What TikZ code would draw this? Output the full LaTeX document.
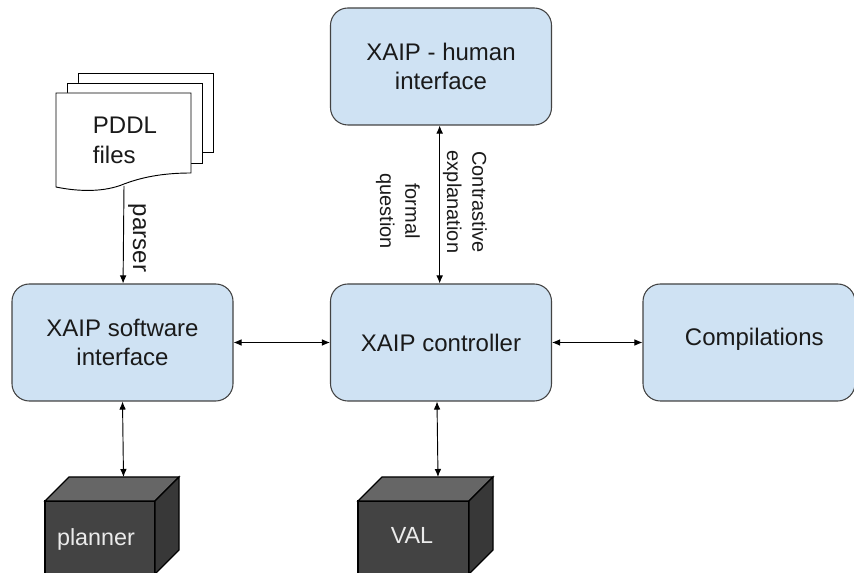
\documentclass[tikz,border=0pt]{standalone}
\usepackage{fontspec}
\setmainfont{Liberation Sans}
\usepackage{tikz}
\usetikzlibrary{arrows.meta}
\definecolor{boxblue}{HTML}{CFE2F3}
\definecolor{boxline}{HTML}{434343}
\definecolor{cubefront}{HTML}{434343}
\definecolor{cubetop}{HTML}{666666}
\definecolor{cubeside}{HTML}{383838}
\definecolor{textgrey}{HTML}{1A1A1A}
\tikzset{
  block/.style={draw=boxline, line width=.8pt, fill=boxblue, rounded corners=13pt, align=center, text=textgrey, font=\fontsize{18}{21.5}\selectfont, inner sep=0pt},
  sheet/.style={draw=black, line width=.7pt, fill=white},
  cubeline/.style={draw=black, line width=.8pt},
  cubelabel/.style={text=white!92!black, font=\fontsize{17.5}{21}\selectfont, inner sep=0pt},
  link/.style={line width=.7pt, {Latex[length=6pt,width=5pt]}-{Latex[length=6pt,width=5pt]}},
  linkone/.style={line width=.7pt, -{Latex[length=6pt,width=5pt]}},
  edgetext/.style={rotate=-90, align=center, text=textgrey, font=\fontsize{15}{19}\selectfont, inner sep=0pt}
}
\begin{document}
\begin{tikzpicture}[x=.75pt, y=-.75pt]
\useasboundingbox (0,0) rectangle (854,573);

% Bloecke
\node[block, minimum width=221*.75pt, minimum height=117*.75pt] (human) at (441,66.5) {XAIP - human\\interface};
\node[block, minimum width=221*.75pt, minimum height=117*.75pt] (software) at (122.5,342.5) {XAIP software\\interface};
\node[block, minimum width=221*.75pt, minimum height=117*.75pt] (controller) at (441,342.5) {XAIP controller};
\node[block, minimum width=212*.75pt, minimum height=117*.75pt, text depth=9pt] (compilations) at (749,342.5) {\hspace*{8pt}Compilations};

% PDDL Dateien
\draw[sheet] (78,93) -- (78,73) -- (213,73) -- (213,152) -- (200,152);
\draw[sheet] (67,93) -- (67,83) -- (202,83) -- (202,163) -- (190,163);
\draw[sheet] (56,93) -- (191,93) -- (191,173) .. controls (155,173) and (135,180) .. (124,184) .. controls (105,192) and (80,192) .. (56,187) -- cycle;
\node[align=left, text=textgrey, font=\fontsize{18}{22.5}\selectfont, inner sep=0pt] (pddl) at (125,140) {PDDL\\files};
\coordinate (pddlout) at (124,186);

% Quader planner
\draw[cubeline, fill=cubefront] (45,501) rectangle (155,574);
\draw[cubeline, fill=cubetop] (45,501) -- (69,477) -- (179,477) -- (155,501) -- cycle;
\draw[cubeline, fill=cubeside] (155,501) -- (179,477) -- (179,550) -- (155,574) -- cycle;
\node[cubelabel] (planner) at (96,539) {planner};
\coordinate (plannertop) at (123.5,477);

% Quader VAL
\draw[cubeline, fill=cubefront] (358,501) rectangle (469,574);
\draw[cubeline, fill=cubetop] (358,501) -- (382,477) -- (493,477) -- (469,501) -- cycle;
\draw[cubeline, fill=cubeside] (469,501) -- (493,477) -- (493,550) -- (469,574) -- cycle;
\node[cubelabel] (val) at (412,535) {VAL};
\coordinate (valtop) at (438,477);

% Verbindungen
\draw[linkone] (pddlout) -- (software);
\draw[link] ([xshift=-1pt]human.south) -- ([xshift=-1pt]controller.north);
\draw[link] (software) -- (controller);
\draw[link] (controller) -- (compilations);
\draw[link] (software.south) -- (plannertop);
\draw[link] ([xshift=-3pt]controller.south) -- (valtop);

% Beschriftungen
\node[edgetext, font=\fontsize{18}{22}\selectfont] (parser) at (137,238) {parser};
\node[edgetext] (contrastive) at (465,202) {Contrastive\\explanation};
\node[edgetext] (formal) at (398,211) {formal\\question};

\end{tikzpicture}
\end{document}
